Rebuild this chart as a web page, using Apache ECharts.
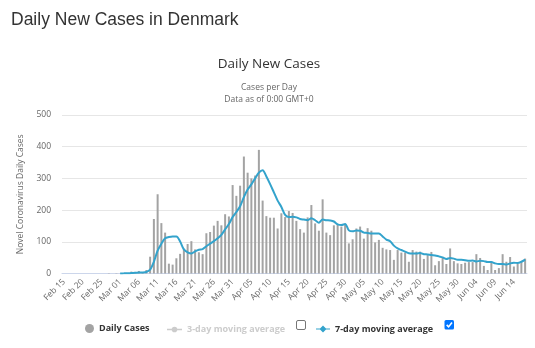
<!DOCTYPE html>
<html><head><meta charset="utf-8">
<script src="https://cdn.jsdelivr.net/npm/echarts/dist/echarts.min.js"></script>
<style>html,body{margin:0;padding:0;background:#fff}#c{width:535px;height:348px}</style>
</head><body><div id="c"></div>
<script>
const dates = [
"Feb 15","Feb 16","Feb 17","Feb 18","Feb 19","Feb 20","Feb 21","Feb 22","Feb 23","Feb 24","Feb 25","Feb 26","Feb 27","Feb 28","Feb 29",
"Mar 01","Mar 02","Mar 03","Mar 04","Mar 05","Mar 06","Mar 07","Mar 08","Mar 09","Mar 10","Mar 11","Mar 12","Mar 13","Mar 14","Mar 15","Mar 16","Mar 17","Mar 18","Mar 19","Mar 20","Mar 21","Mar 22","Mar 23","Mar 24","Mar 25","Mar 26","Mar 27","Mar 28","Mar 29","Mar 30","Mar 31",
"Apr 01","Apr 02","Apr 03","Apr 04","Apr 05","Apr 06","Apr 07","Apr 08","Apr 09","Apr 10","Apr 11","Apr 12","Apr 13","Apr 14","Apr 15","Apr 16","Apr 17","Apr 18","Apr 19","Apr 20","Apr 21","Apr 22","Apr 23","Apr 24","Apr 25","Apr 26","Apr 27","Apr 28","Apr 29","Apr 30",
"May 01","May 02","May 03","May 04","May 05","May 06","May 07","May 08","May 09","May 10","May 11","May 12","May 13","May 14","May 15","May 16","May 17","May 18","May 19","May 20","May 21","May 22","May 23","May 24","May 25","May 26","May 27","May 28","May 29","May 30","May 31",
"Jun 01","Jun 02","Jun 03","Jun 04","Jun 05","Jun 06","Jun 07","Jun 08","Jun 09","Jun 10","Jun 11","Jun 12","Jun 13","Jun 14","Jun 15","Jun 16","Jun 17"
];
const dailyCases = [
0,0,0,0,0,0,0,0,0,0,0,0,1,0,1,
0,1,1,6,5,8,2,11,53,172, 250,159,129,31,28,48,62,78,93,102, 76,67,61,127,131,151,166,152,187,180, 279,
245,277,369,318,300,309,390,230,181,176, 176,142,190,178,197,191,166,140,129,177, 216,158,135,234,129,121,152,154,148,153,
95,108,142,148,110,143,135,98,106,81, 76,74,43,74,66,66,37,74,69,69, 46,58,68,26,39,50,30,79,39,32,30,
34,36,36,61,49,24,11,35,11,17, 61,37,52,22,30,39,47
];
const avg7 = [
null,null,null,null,null,null,null,null,null,null,null,null,null,null,null,
0.3,0.4,0.6,1.4,2,3.1,3.3,4.9,12,37, 72,94,111,115,117,117,101,76,67,63, 70,75,77,86,94,102,111,122,139,156, 178,
194,212,241,265,281,300,318,326,306,282, 256,230,210,185,178,179,177,172,170,168, 174,168,160,170,168,167,164,155,153,156,
136,133,136,135,129,128,126,126,126,117, 107,102,88,79,74,69,64,63,63,65, 61,60,58,57,54,51,46,49,47,43,43,
42,40,41,38,40,39,36,36,32,30, 30,28,32,34,33,37,44
];
const avg3 = [];
const yMin = 0, yMax = 500, yStep = 100;

const FONT = 'Open Sans';
const lineIcon = 'path://M0,4.3H16V5.7H0Z M8,2A3,3,0,1,1,7.99,2Z';
const diamondIcon = 'path://M0,4.3H16V5.7H0Z M8,1L12,5L8,9L4,5Z';
const legendText = {fontSize: 9, fontWeight: 'bold', color: '#333', fontFamily: FONT};

const chart = echarts.init(document.getElementById('c'));
chart.setOption({
  animation: false,
  title: [
    {text: 'Daily New Cases in Denmark', left: 6, top: 6, textStyle: {fontSize: 17.5, fontWeight: 'normal', color: '#333', fontFamily: 'Liberation Sans'}},
    {text: 'Daily New Cases', left: 264, top: 52, textAlign: 'center', textStyle: {fontSize: 13.5, fontWeight: 'normal', color: '#333', fontFamily: FONT}},
    {text: 'Cases per Day\nData as of 0:00 GMT+0', left: 264, top: 77, textAlign: 'center', textStyle: {fontSize: 8.5, lineHeight: 11.5, fontWeight: 'normal', color: '#666', fontFamily: FONT}}
  ],
  grid: {left: 62, right: 8, top: 115, bottom: 74.5},
  xAxis: {
    type: 'category', data: dates, boundaryGap: true,
    axisLine: {lineStyle: {color: '#ccd6eb'}},
    axisTick: {show: false},
    axisLabel: {interval: 4, rotate: 45, fontSize: 8.5, color: '#666', margin: 7, fontFamily: FONT}
  },
  yAxis: {
    type: 'value', min: yMin, max: yMax, interval: yStep,
    name: 'Novel Coronavirus Daily Cases', nameLocation: 'middle', nameGap: 31,
    nameTextStyle: {fontSize: 8.5, color: '#666', fontFamily: FONT},
    axisLine: {show: false}, axisTick: {show: false},
    axisLabel: {fontSize: 8.5, color: '#666', margin: 11, fontFamily: FONT},
    splitLine: {lineStyle: {color: '#e6e6e6'}}
  },
  legend: [
    {data: ['Daily Cases'], left: 80, top: 319, icon: 'circle', itemWidth: 9, itemHeight: 9, selectedMode: false, textStyle: legendText},
    {data: [{name: '3-day moving average', icon: lineIcon}], left: 162, top: 320, itemWidth: 15, itemHeight: 6, inactiveColor: '#ccc',
      selected: {'3-day moving average': false}, textStyle: legendText},
    {data: [{name: '7-day moving average', icon: diamondIcon}], left: 311, top: 319.5, itemWidth: 14, itemHeight: 7, textStyle: legendText}
  ],
  graphic: [
    {type: 'rect', shape: {x: 296.5, y: 320.5, width: 9, height: 9, r: 1.5}, style: {fill: '#fff', stroke: '#767676', lineWidth: 1}},
    {type: 'rect', shape: {x: 444.5, y: 320, width: 9.5, height: 9.5, r: 1.5}, style: {fill: '#0075ff'}},
    {type: 'polyline', shape: {points: [[446.7, 324.9], [448.6, 326.9], [452, 322.6]]}, style: {stroke: '#fff', lineWidth: 1.6, fill: null}}
  ],
  series: [
    {name: 'Daily Cases', type: 'bar', data: dailyCases, barWidth: 2, itemStyle: {color: '#a3a3a3'}},
    {name: '3-day moving average', type: 'line', data: avg3, itemStyle: {color: '#ccc'}, lineStyle: {color: '#ccc'}},
    {name: '7-day moving average', type: 'line', data: avg7, smooth: 0.3, showSymbol: false, z: 3,
      lineStyle: {width: 2, color: '#33a3cc'}, itemStyle: {color: '#33a3cc'}}
  ]
});
</script>
</body></html>
